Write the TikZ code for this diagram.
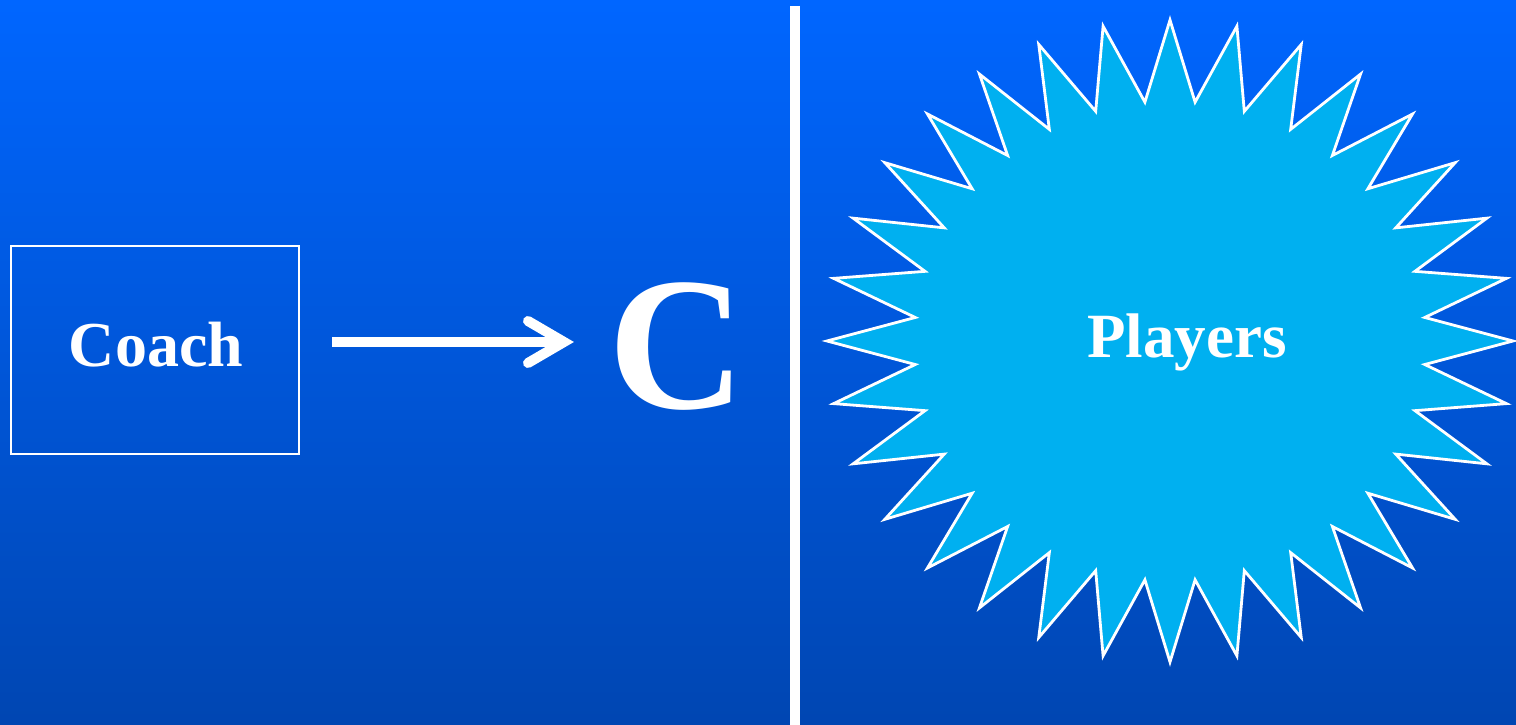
\documentclass[tikz,border=0pt]{standalone}
\usepackage{fontspec}
\setmainfont{Liberation Serif}
\definecolor{bgtop}{RGB}{0,102,255}
\definecolor{bgbot}{RGB}{0,70,178}
\definecolor{starfill}{RGB}{0,176,240}
\tikzset{
  lbl/.style={text=white, font=\bfseries\fontsize{64}{70}\selectfont, inner sep=0pt, anchor=base},
  coachbox/.style={draw=white, line width=2.5pt, minimum width=288pt, minimum height=208pt, inner sep=0pt},
  bigarrow/.style={draw=white, line width=10pt},
  barb/.style={draw=white, line width=10pt, line cap=round, line join=miter},
  divider/.style={draw=white, line width=10pt},
  burst/.style={draw=white, fill=starfill, line width=2.8pt, line join=miter}
}
\begin{document}
\begin{tikzpicture}[x=1pt,y=1pt]
\useasboundingbox (0,0) rectangle (1516,725);
\shade[top color=bgtop, bottom color=bgbot] (0,0) rectangle (1516,725);
% Coach box
\node[coachbox] (coach) at (155,375) {};
\node[lbl] (coachtxt) at (156,358) {Coach};
% arrow
\coordinate (astart) at (332,383);
\coordinate (aend) at (564,383);
\coordinate (btop) at (528,404);
\coordinate (bbot) at (528,362);
\draw[bigarrow] (astart) -- (aend);
\draw[barb] (btop) -- (aend) -- (bbot);
% big C
\node[text=white, font=\bfseries\fontsize{190}{200}\selectfont, inner sep=0pt, anchor=base] (bigc) at (677,316) {C};
% divider
\coordinate (dtop) at (795,719);
\coordinate (dbot) at (795,0);
\draw[divider] (dtop) -- (dbot);
% starburst
\begin{scope}[shift={(1170,384)}]
\draw[burst] (90:343 and 321)
  \foreach \k in {0,...,31} { -- ({90+\k*11.25+5.625}:256 and 240) -- ({90+(\k+1)*11.25}:343 and 321) } -- cycle;
\end{scope}
\node[lbl, font=\bfseries\fontsize{63}{70}\selectfont] (players) at (1187,367) {Players};
\end{tikzpicture}
\end{document}
